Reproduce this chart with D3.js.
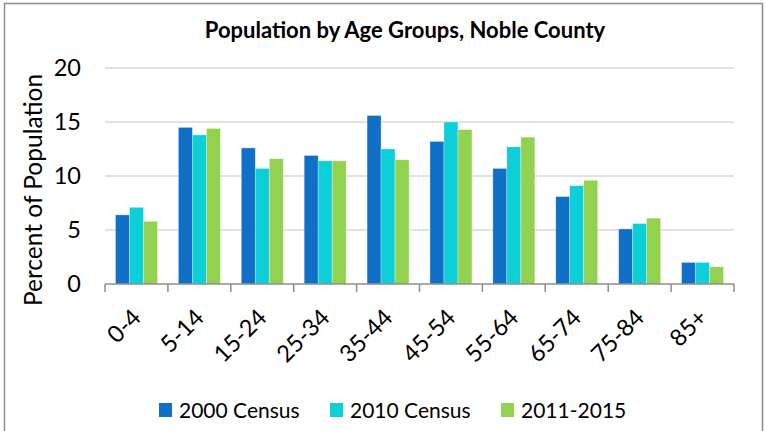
<!DOCTYPE html>
<html>
<head>
<meta charset="utf-8">
<script src="https://cdn.jsdelivr.net/npm/d3@7"></script>
<style>
  html, body { margin: 0; padding: 0; background: #fff; }
  svg { display: block; font-family: Lato, "Liberation Sans", sans-serif; }
</style>
</head>
<body>
<svg id="chart" width="765" height="431"></svg>
<script>
const categories = ["0-4","5-14","15-24","25-34","35-44","45-54","55-64","65-74","75-84","85+"];
const seriesNames = ["2000 Census","2010 Census","2011-2015"];
const census2000 = [6.4, 14.5, 12.6, 11.9, 15.6, 13.2, 10.7, 8.1, 5.1, 2.0];
const census2010 = [7.1, 13.8, 10.7, 11.4, 12.5, 15.0, 12.7, 9.1, 5.6, 2.0];
const acs20112015 = [5.8, 14.4, 11.6, 11.4, 11.5, 14.3, 13.6, 9.6, 6.1, 1.6];
const yTicks = [0, 5, 10, 15, 20];
const colors = ["#1070C8", "#0CCFD8", "#93D251"];

const seriesValues = [census2000, census2010, acs20112015];
const svg = d3.select("#chart");

// frame
svg.append("rect").attr("x", 4.5).attr("y", 3.5).attr("width", 758).attr("height", 440)
  .attr("fill", "none").attr("stroke", "#8c8c8c").attr("stroke-width", 1.5);

const plotL = 105, plotR = 734, plotT = 68, plotB = 284;

const x = d3.scaleBand().domain(categories).range([plotL, plotR]).paddingInner(0.333).paddingOuter(0.1667);
const xs = d3.scaleBand().domain(seriesNames).range([0, x.bandwidth()]);
const y = d3.scaleLinear().domain([0, 20]).range([plotB, plotT]);

// gridlines
svg.append("g").selectAll("line").data(yTicks.filter(d => d > 0)).join("line")
  .attr("x1", plotL).attr("x2", plotR)
  .attr("y1", d => y(d)).attr("y2", d => y(d))
  .attr("stroke", "#d9d9d9").attr("stroke-width", 1.5);

// y tick labels
svg.append("g").selectAll("text").data(yTicks).join("text")
  .attr("x", 81).attr("y", d => y(d)).attr("dy", "0.35em")
  .attr("text-anchor", "end").attr("font-size", 23.5).attr("fill", "#000")
  .text(d => d);

// y title
svg.append("text")
  .attr("transform", `translate(42,190) rotate(-90)`)
  .attr("text-anchor", "middle").attr("font-size", 24.5).attr("fill", "#000")
  .text("Percent of Population");

// bars
const groups = svg.append("g").selectAll("g").data(seriesNames).join("g")
  .attr("fill", (d, i) => colors[i]);
groups.each(function(s, si) {
  d3.select(this).selectAll("rect").data(categories).join("rect")
    .attr("x", c => x(c) + xs(s))
    .attr("y", (c, ci) => y(seriesValues[si][ci]))
    .attr("width", xs.bandwidth())
    .attr("height", (c, ci) => y(0) - y(seriesValues[si][ci]))
    .attr("stroke", "rgba(255,255,255,0.5)").attr("stroke-width", 0.6);
});

// x axis
const axisG = svg.append("g").attr("transform", `translate(0,${plotB})`);
axisG.append("line").attr("x1", plotL).attr("x2", plotR).attr("y1", 0).attr("y2", 0)
  .attr("stroke", "#8c8c8c").attr("stroke-width", 1.5);
const boundaries = categories.map(c => x(c) - x.step() * x.paddingInner() / 2).concat([plotR]);
axisG.selectAll("line.tk").data(boundaries).join("line").attr("class", "tk")
  .attr("x1", d => d).attr("x2", d => d).attr("y1", 0).attr("y2", 8)
  .attr("stroke", "#8c8c8c").attr("stroke-width", 1.5);

// x labels
svg.append("g").selectAll("text").data(categories).join("text")
  .attr("transform", c => `translate(${x(c) + x.bandwidth() / 2 + 6},${plotB + 35}) rotate(-45)`)
  .attr("text-anchor", "end").attr("font-size", 23.5).attr("fill", "#000")
  .text(c => c);

// title
svg.append("text").attr("x", 405).attr("y", 38).attr("text-anchor", "middle")
  .attr("font-size", 22).attr("font-weight", "bold").attr("fill", "#000")
  .text("Population by Age Groups, Noble County");

// legend
const legendX = [159, 330, 501];
const lg = svg.append("g").selectAll("g").data(seriesNames).join("g")
  .attr("transform", (d, i) => `translate(${legendX[i]},403)`);
lg.append("rect").attr("width", 13).attr("height", 14).attr("fill", (d, i) => colors[i]);
lg.append("text").attr("x", 20).attr("y", 15).attr("font-size", 21).attr("fill", "#000").text(d => d);
</script>
</body>
</html>
